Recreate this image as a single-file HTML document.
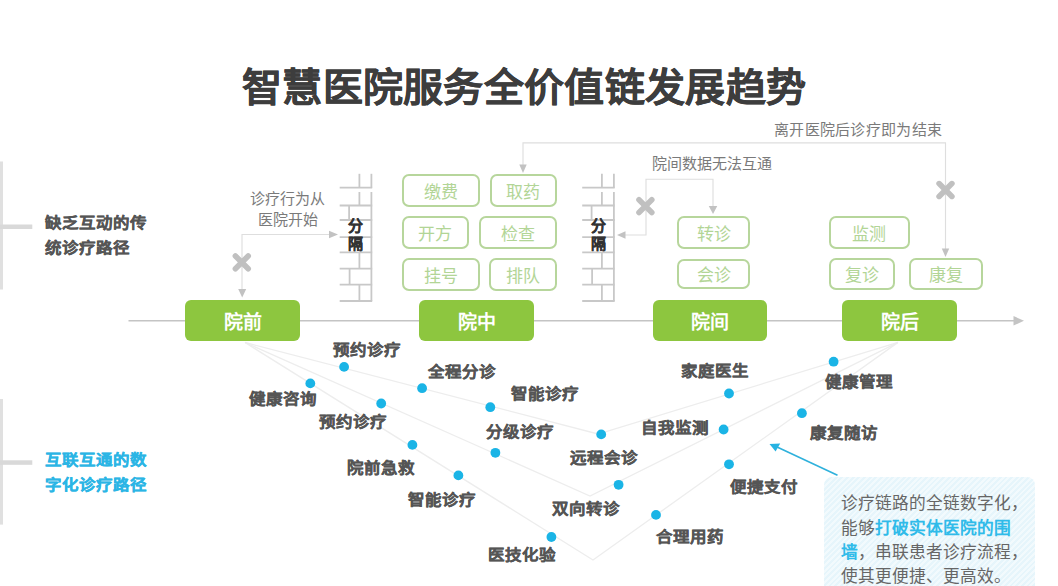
<!DOCTYPE html>
<html lang="zh-CN"><head><meta charset="utf-8">
<style>
*{margin:0;padding:0;box-sizing:border-box}
html,body{width:1058px;height:586px;overflow:hidden;background:#fff}
body{position:relative;font-family:"Liberation Sans",sans-serif}
.t{position:absolute;white-space:nowrap}
.title{left:242px;top:68px;font-size:40px;line-height:40px;font-weight:bold;color:#3d3d3d;-webkit-text-stroke:0.35px #3d3d3d;letter-spacing:0.3px;transform:scaleY(0.97);transform-origin:0 0}
.side{font-size:16.5px;line-height:16.5px;font-weight:bold;color:#555;-webkit-text-stroke:0.3px #555;transform:scaleY(0.92)}
.side.c{color:#2bb5e5;-webkit-text-stroke:0.3px #2bb5e5}
.note{font-size:15px;line-height:15px;color:#7a7a7a}
.wt{font-size:15px;line-height:17.5px;font-weight:bold;color:#333;text-align:center;-webkit-text-stroke:0.25px #333}
.gb{position:absolute;background:#8dc63f;border-radius:6px;color:#fff;font-weight:bold;font-size:19px;display:flex;align-items:center;justify-content:center;top:300px;height:41px}
.ob{position:absolute;border:2.5px solid #b7d69c;border-radius:7px;color:#b2d596;font-size:17px;display:flex;align-items:center;justify-content:center}
.fl{font-size:16.5px;line-height:16.5px;font-weight:bold;color:#555;-webkit-text-stroke:0.3px #555;transform:scaleY(0.92)}
.callout{position:absolute;left:824px;top:476.5px;width:211px;height:130px;border-radius:8px;background:repeating-linear-gradient(135deg,#e6f5fb 0 2px,#f2fafd 2px 4px)}
.ct{left:841.4px;top:492.4px;font-size:16.7px;line-height:24.2px;color:#666}
.ct b{color:#30bbe9}
</style></head><body>
<svg width="1058" height="586" style="position:absolute;left:0;top:0">
<rect x="0" y="161.5" width="3" height="128" fill="#e0e0e0"/>
<rect x="0" y="224.5" width="32.3" height="4.5" fill="#d9d9d9"/>
<rect x="0" y="399" width="3" height="125.6" fill="#e0e0e0"/>
<rect x="0" y="460.3" width="32.3" height="4.5" fill="#d9d9d9"/>
<line x1="128.5" y1="320.8" x2="1015" y2="320.8" stroke="#c4c4c4" stroke-width="1.6"/>
<polygon points="1013.5,316 1024,320.8 1013.5,325.6" fill="#c4c4c4"/>
<polyline points="245,342.5 598,434 898,342.4" fill="none" stroke="#ededed" stroke-width="1.3"/>
<polyline points="245,342.5 590,496 898,342.4" fill="none" stroke="#ededed" stroke-width="1.3"/>
<polyline points="245,342.5 593,560 898,342.4" fill="none" stroke="#ededed" stroke-width="1.3"/>
<line x1="339.7" y1="187.7" x2="372.2" y2="187.7" stroke="#c8c8c8" stroke-width="1.8"/>
<line x1="371.4" y1="173.8" x2="371.4" y2="187.7" stroke="#c8c8c8" stroke-width="1.8"/>
<line x1="359.4" y1="173.8" x2="359.4" y2="187.7" stroke="#c8c8c8" stroke-width="1.8"/>
<line x1="339.7" y1="205.5" x2="372.2" y2="205.5" stroke="#c8c8c8" stroke-width="1.8"/>
<line x1="371.4" y1="192" x2="371.4" y2="205.5" stroke="#c8c8c8" stroke-width="1.8"/>
<line x1="359.4" y1="192" x2="359.4" y2="205.5" stroke="#c8c8c8" stroke-width="1.8"/>
<line x1="339.7" y1="220" x2="372.2" y2="220" stroke="#c8c8c8" stroke-width="1.8"/>
<line x1="371.4" y1="205.5" x2="371.4" y2="220" stroke="#c8c8c8" stroke-width="1.8"/>
<line x1="349.1" y1="205.5" x2="349.1" y2="220" stroke="#c8c8c8" stroke-width="1.8"/>
<line x1="339.7" y1="237.2" x2="372.2" y2="237.2" stroke="#c8c8c8" stroke-width="1.8"/>
<line x1="371.4" y1="220" x2="371.4" y2="237.2" stroke="#c8c8c8" stroke-width="1.8"/>
<line x1="339.7" y1="252.3" x2="372.2" y2="252.3" stroke="#c8c8c8" stroke-width="1.8"/>
<line x1="371.4" y1="237.2" x2="371.4" y2="252.3" stroke="#c8c8c8" stroke-width="1.8"/>
<line x1="339.7" y1="268.6" x2="372.2" y2="268.6" stroke="#c8c8c8" stroke-width="1.8"/>
<line x1="371.4" y1="252.3" x2="371.4" y2="268.6" stroke="#c8c8c8" stroke-width="1.8"/>
<line x1="359.4" y1="252.3" x2="359.4" y2="268.6" stroke="#c8c8c8" stroke-width="1.8"/>
<line x1="339.7" y1="284.6" x2="372.2" y2="284.6" stroke="#c8c8c8" stroke-width="1.8"/>
<line x1="371.4" y1="268.6" x2="371.4" y2="284.6" stroke="#c8c8c8" stroke-width="1.8"/>
<line x1="349.6" y1="268.6" x2="349.6" y2="284.6" stroke="#c8c8c8" stroke-width="1.8"/>
<line x1="339.7" y1="301" x2="372.2" y2="301" stroke="#c8c8c8" stroke-width="1.8"/>
<line x1="371.4" y1="284.6" x2="371.4" y2="301" stroke="#c8c8c8" stroke-width="1.8"/>
<line x1="359.4" y1="284.6" x2="359.4" y2="301" stroke="#c8c8c8" stroke-width="1.8"/>
<line x1="582.2" y1="187.7" x2="614.7" y2="187.7" stroke="#c8c8c8" stroke-width="1.8"/>
<line x1="613.9" y1="173.8" x2="613.9" y2="187.7" stroke="#c8c8c8" stroke-width="1.8"/>
<line x1="601.9" y1="173.8" x2="601.9" y2="187.7" stroke="#c8c8c8" stroke-width="1.8"/>
<line x1="582.2" y1="205.5" x2="614.7" y2="205.5" stroke="#c8c8c8" stroke-width="1.8"/>
<line x1="613.9" y1="192" x2="613.9" y2="205.5" stroke="#c8c8c8" stroke-width="1.8"/>
<line x1="601.9" y1="192" x2="601.9" y2="205.5" stroke="#c8c8c8" stroke-width="1.8"/>
<line x1="582.2" y1="220" x2="614.7" y2="220" stroke="#c8c8c8" stroke-width="1.8"/>
<line x1="613.9" y1="205.5" x2="613.9" y2="220" stroke="#c8c8c8" stroke-width="1.8"/>
<line x1="591.6" y1="205.5" x2="591.6" y2="220" stroke="#c8c8c8" stroke-width="1.8"/>
<line x1="582.2" y1="237.2" x2="614.7" y2="237.2" stroke="#c8c8c8" stroke-width="1.8"/>
<line x1="613.9" y1="220" x2="613.9" y2="237.2" stroke="#c8c8c8" stroke-width="1.8"/>
<line x1="582.2" y1="252.3" x2="614.7" y2="252.3" stroke="#c8c8c8" stroke-width="1.8"/>
<line x1="613.9" y1="237.2" x2="613.9" y2="252.3" stroke="#c8c8c8" stroke-width="1.8"/>
<line x1="582.2" y1="268.6" x2="614.7" y2="268.6" stroke="#c8c8c8" stroke-width="1.8"/>
<line x1="613.9" y1="252.3" x2="613.9" y2="268.6" stroke="#c8c8c8" stroke-width="1.8"/>
<line x1="601.9" y1="252.3" x2="601.9" y2="268.6" stroke="#c8c8c8" stroke-width="1.8"/>
<line x1="582.2" y1="284.6" x2="614.7" y2="284.6" stroke="#c8c8c8" stroke-width="1.8"/>
<line x1="613.9" y1="268.6" x2="613.9" y2="284.6" stroke="#c8c8c8" stroke-width="1.8"/>
<line x1="592.1" y1="268.6" x2="592.1" y2="284.6" stroke="#c8c8c8" stroke-width="1.8"/>
<line x1="582.2" y1="301" x2="614.7" y2="301" stroke="#c8c8c8" stroke-width="1.8"/>
<line x1="613.9" y1="284.6" x2="613.9" y2="301" stroke="#c8c8c8" stroke-width="1.8"/>
<line x1="601.9" y1="284.6" x2="601.9" y2="301" stroke="#c8c8c8" stroke-width="1.8"/>
<polyline points="242,291 242,234.5 331,234.5" fill="none" stroke="#dedede" stroke-width="1.15"/>
<polygon points="329,230.8 338,234.5 329,238.2" fill="#c2c2c2"/>
<polygon points="238.2,289 242.2,297.5 246.2,289" fill="#c2c2c2"/>
<polyline points="523,166 523,142.8 945.5,142.8 945.5,250" fill="none" stroke="#dedede" stroke-width="1.15"/>
<polygon points="519.3,164.5 523,173 526.7,164.5" fill="#c2c2c2"/>
<polygon points="941.8,248.5 945.5,257 949.2,248.5" fill="#c2c2c2"/>
<polyline points="713,207 713,179.2 646,179.2 646,235 624,235" fill="none" stroke="#dedede" stroke-width="1.15"/>
<polygon points="704.5,206 713,206 708.75,214" fill="#c2c2c2" transform="translate(4.25,0)"/>
<polygon points="625.5,231.3 617,235 625.5,238.7" fill="#c2c2c2"/>
<path d="M235.4,256.0L248.2,268.8M248.2,256.0L235.4,268.8" stroke="#c0c0c0" stroke-width="5.6" stroke-linecap="round"/>
<path d="M939.1,183.6L951.9,196.4M951.9,183.6L939.1,196.4" stroke="#c0c0c0" stroke-width="5.6" stroke-linecap="round"/>
<path d="M639.0,199.8L651.8,212.6M651.8,199.8L639.0,212.6" stroke="#c0c0c0" stroke-width="5.6" stroke-linecap="round"/>
<line x1="837.5" y1="475.2" x2="776" y2="446.5" stroke="#2fb1dc" stroke-width="1.6"/>
<polygon points="769.5,444 780.2,443.6 775.6,451.6" fill="#26b3e2"/>
<circle cx="344.1" cy="366.9" r="4.9" fill="#1ab4e6"/>
<circle cx="310.3" cy="383.4" r="4.9" fill="#1ab4e6"/>
<circle cx="381.2" cy="403.5" r="4.9" fill="#1ab4e6"/>
<circle cx="422.1" cy="388.2" r="4.9" fill="#1ab4e6"/>
<circle cx="490.3" cy="407.2" r="4.9" fill="#1ab4e6"/>
<circle cx="412.4" cy="444.9" r="4.9" fill="#1ab4e6"/>
<circle cx="458.4" cy="475.4" r="4.9" fill="#1ab4e6"/>
<circle cx="495.4" cy="452.8" r="4.9" fill="#1ab4e6"/>
<circle cx="601.2" cy="434.4" r="4.9" fill="#1ab4e6"/>
<circle cx="618.6" cy="484.8" r="4.9" fill="#1ab4e6"/>
<circle cx="551.4" cy="537" r="4.9" fill="#1ab4e6"/>
<circle cx="656" cy="514.9" r="4.9" fill="#1ab4e6"/>
<circle cx="729" cy="393.5" r="4.9" fill="#1ab4e6"/>
<circle cx="723.6" cy="429.5" r="4.9" fill="#1ab4e6"/>
<circle cx="729" cy="464.3" r="4.9" fill="#1ab4e6"/>
<circle cx="833.6" cy="361.7" r="4.9" fill="#1ab4e6"/>
<circle cx="801.9" cy="413.2" r="4.9" fill="#1ab4e6"/>
</svg>

<div class="t title">智慧医院服务全价值链发展趋势</div>

<div class="t side" style="left:44.8px;top:214.3px">缺乏互动的传</div>
<div class="t side" style="left:44.8px;top:238.5px">统诊疗路径</div>
<div class="t side c" style="left:45px;top:451.3px">互联互通的数</div>
<div class="t side c" style="left:45px;top:475.5px">字化诊疗路径</div>

<div class="t note" style="left:250.3px;top:190.5px">诊疗行为从</div>
<div class="t note" style="left:258.3px;top:211.7px">医院开始</div>
<div class="t note" style="left:774px;top:122.3px;letter-spacing:0.28px">离开医院后诊疗即为结束</div>
<div class="t note" style="left:652.3px;top:156.2px">院间数据无法互通</div>

<div class="gb" style="left:185px;width:115px">院前</div>
<div class="gb" style="left:419px;width:115px">院中</div>
<div class="gb" style="left:653px;width:114px">院间</div>
<div class="gb" style="left:842px;width:115px">院后</div>

<div class="ob" style="left:401.5px;top:174px;width:78.5px;height:33px">缴费</div>
<div class="ob" style="left:489.5px;top:174px;width:67px;height:33px">取药</div>
<div class="ob" style="left:401.5px;top:216px;width:67.5px;height:33px">开方</div>
<div class="ob" style="left:479px;top:216px;width:77.5px;height:33px">检查</div>
<div class="ob" style="left:402px;top:258px;width:78px;height:32.6px">挂号</div>
<div class="ob" style="left:488.5px;top:258px;width:68px;height:32.6px">排队</div>
<div class="ob" style="left:677px;top:216px;width:73px;height:33px">转诊</div>
<div class="ob" style="left:677px;top:258.5px;width:73px;height:30.5px">会诊</div>
<div class="ob" style="left:828.8px;top:216px;width:81px;height:33px">监测</div>
<div class="ob" style="left:829px;top:257.5px;width:66px;height:32.5px">复诊</div>
<div class="ob" style="left:909px;top:257.5px;width:73.5px;height:32.5px">康复</div>

<div class="t wt" style="left:348px;top:217px">分<br>隔</div>
<div class="t wt" style="left:590.5px;top:217px">分<br>隔</div>

<div class="t fl" style="left:332.8px;top:340.9px">预约诊疗</div>
<div class="t fl" style="left:249.1px;top:390.0px">健康咨询</div>
<div class="t fl" style="left:318.6px;top:412.5px">预约诊疗</div>
<div class="t fl" style="left:427.8px;top:362.6px">全程分诊</div>
<div class="t fl" style="left:510.5px;top:385.0px">智能诊疗</div>
<div class="t fl" style="left:486.2px;top:423.2px">分级诊疗</div>
<div class="t fl" style="left:346.8px;top:459.0px">院前急救</div>
<div class="t fl" style="left:407.5px;top:491.0px">智能诊疗</div>
<div class="t fl" style="left:570.2px;top:449.2px">远程会诊</div>
<div class="t fl" style="left:551.8px;top:500.0px">双向转诊</div>
<div class="t fl" style="left:488.4px;top:546.2px">医技化验</div>
<div class="t fl" style="left:655.9px;top:527.8px">合理用药</div>
<div class="t fl" style="left:680.6px;top:362.3px">家庭医生</div>
<div class="t fl" style="left:641.1px;top:418.6px">自我监测</div>
<div class="t fl" style="left:729.8px;top:478.0px">便捷支付</div>
<div class="t fl" style="left:825.2px;top:372.6px">健康管理</div>
<div class="t fl" style="left:809.5px;top:424.4px">康复随访</div>

<div class="callout"></div>
<div class="t ct">诊疗链路的全链数字化，<br>能够<b>打破实体医院的围</b><br><b>墙</b>，串联患者诊疗流程，<br>使其更便捷、更高效。</div>

</body></html>
